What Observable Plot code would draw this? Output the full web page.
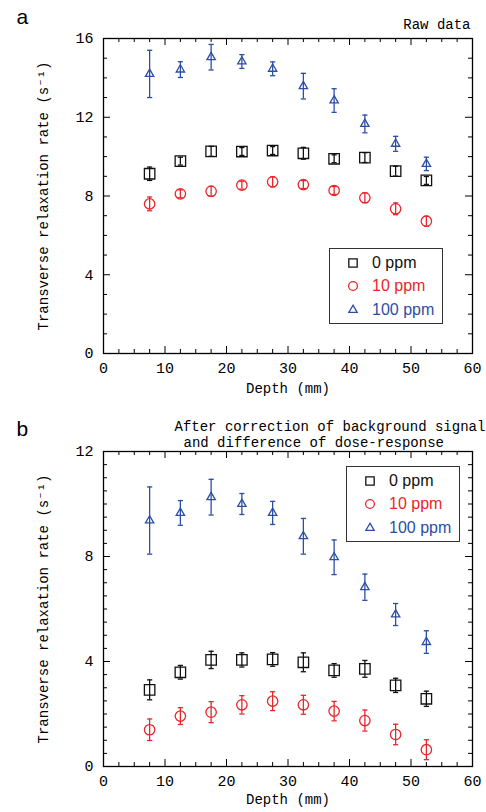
<!DOCTYPE html>
<html><head><meta charset="utf-8">
<script src="https://cdn.jsdelivr.net/npm/d3@7"></script>
<script src="https://cdn.jsdelivr.net/npm/@observablehq/plot@0.6"></script>
<style>
body{margin:0;background:#fff;}
#wrap{position:relative;width:486px;height:812px;overflow:hidden;background:#fff;}
#wrap svg{display:block;}
.legend{position:absolute;box-sizing:border-box;border:1.5px solid #333;background:#fff;font-family:"Liberation Sans",Arial,sans-serif;font-size:16px;}
.legend .row{position:absolute;height:20px;line-height:20px;white-space:nowrap;}
.legend .sym{position:absolute;}
</style></head><body><div id="wrap"></div>
<script>
// ---------- data ----------
const depth = [7.5, 12.5, 17.5, 22.5, 27.5, 32.5, 37.5, 42.5, 47.5, 52.5];

// Panel a: raw data
const rawPpm0     = [9.13, 9.77, 10.27, 10.26, 10.31, 10.17, 9.89, 9.95, 9.26, 8.79];
const rawPpm0Err  = [0.34, 0.20, 0.25, 0.20, 0.20, 0.30, 0.20, 0.25, 0.25, 0.20];
const rawPpm10    = [7.60, 8.11, 8.24, 8.55, 8.72, 8.58, 8.28, 7.91, 7.35, 6.72];
const rawPpm10Err = [0.35, 0.20, 0.25, 0.20, 0.25, 0.20, 0.20, 0.25, 0.30, 0.25];
const rawPpm100   = [14.20, 14.42, 15.05, 14.83, 14.46, 13.58, 12.85, 11.66, 10.65, 9.63];
const rawPpm100Err= [1.20, 0.40, 0.65, 0.35, 0.35, 0.65, 0.60, 0.45, 0.38, 0.34];

// Panel b: corrected data
const corPpm0     = [2.92, 3.59, 4.06, 4.06, 4.08, 3.97, 3.66, 3.72, 3.09, 2.58];
const corPpm0Err  = [0.38, 0.26, 0.33, 0.27, 0.26, 0.36, 0.26, 0.32, 0.27, 0.29];
const corPpm10    = [1.40, 1.92, 2.07, 2.35, 2.49, 2.35, 2.11, 1.75, 1.22, 0.64];
const corPpm10Err = [0.41, 0.32, 0.40, 0.35, 0.36, 0.36, 0.37, 0.40, 0.39, 0.38];
const corPpm100   = [9.37, 9.66, 10.26, 10.00, 9.66, 8.77, 7.97, 6.83, 5.79, 4.74];
const corPpm100Err= [1.28, 0.47, 0.68, 0.40, 0.44, 0.68, 0.66, 0.50, 0.42, 0.43];

const seriesNames = ["0 ppm", "10 ppm", "100 ppm"];

// ticks
const xMajorTicks = [0, 10, 20, 30, 40, 50, 60];
const xMinorTicks = [2.5, 5, 7.5, 12.5, 15, 17.5, 22.5, 25, 27.5, 32.5, 35, 37.5, 42.5, 45, 47.5, 52.5, 55, 57.5];
const yMajorTicksA = [0, 4, 8, 12, 16];
const yMinorTicksA = [1, 2, 3, 5, 6, 7, 9, 10, 11, 13, 14, 15];
const yMajorTicksB = [0, 4, 8, 12];
const yMinorTicksB = [0.5, 1, 1.5, 2, 2.5, 3, 3.5, 4.5, 5, 5.5, 6, 6.5, 7, 7.5, 8.5, 9, 9.5, 10, 10.5, 11, 11.5];

const xLabel = "Depth (mm)";
const yLabel = "Transverse relaxation rate (s\u207B\u00B9)";
const titleA = "Raw data";
const titleB1 = "After correction of background signal";
const titleB2 = "and difference of dose-response";

// ---------- styling ----------
const colors = ["#111111", "#e8262c", "#2b4ea6"];
const symbols = ["square", "circle", "triangle"];
const radii = [5.9, 5.2, 3.1];
const capSymbol = {draw(ctx, size) { const r = Math.sqrt(size / Math.PI); ctx.moveTo(-r, 0); ctx.lineTo(r, 0); }};

const W = 486, H = 406, ML = 103, MR = 14;
const plotW = W - ML - MR; // 369
const plotH = 315;
const mono = "Liberation Mono, DejaVu Sans Mono, monospace";

function panel({vals, errs, yDomain, yMajor, yMinor, marginTop, letter, letterDy, titles, xLabelDy}) {
  const marginBottom = H - marginTop - plotH;
  const marks = [];
  const tk = {stroke: "#000", strokeWidth: 1};
  marks.push(Plot.tickX(xMinorTicks, {...tk, insetTop: plotH - 4}));
  marks.push(Plot.tickX(xMinorTicks, {...tk, insetBottom: plotH - 4}));
  marks.push(Plot.tickX(xMajorTicks, {...tk, insetTop: plotH - 7}));
  marks.push(Plot.tickX(xMajorTicks, {...tk, insetBottom: plotH - 7}));
  marks.push(Plot.tickY(yMinor, {...tk, insetRight: plotW - 4}));
  marks.push(Plot.tickY(yMinor, {...tk, insetLeft: plotW - 4}));
  marks.push(Plot.tickY(yMajor, {...tk, insetRight: plotW - 7}));
  marks.push(Plot.tickY(yMajor, {...tk, insetLeft: plotW - 7}));
  marks.push(Plot.frame({stroke: "#000", strokeWidth: 1.3}));
  marks.push(Plot.axisX(xMajorTicks, {tickSize: 0, tickPadding: 9, label: null, fontSize: 15}));
  marks.push(Plot.axisY(yMajor, {tickSize: 0, tickPadding: 10, label: null, fontSize: 15}));
  vals.forEach((v, s) => {
    const rows = depth.map((d, i) => ({depth: d, value: v[i], lo: v[i] - errs[s][i], hi: v[i] + errs[s][i]}));
    marks.push(Plot.ruleX(rows, {x: "depth", y1: "lo", y2: "hi", stroke: colors[s], strokeWidth: 1.3}));
    marks.push(Plot.dot(rows, {x: "depth", y: "lo", symbol: capSymbol, r: 2.6, stroke: colors[s], fill: "none", strokeWidth: 1.3}));
    marks.push(Plot.dot(rows, {x: "depth", y: "hi", symbol: capSymbol, r: 2.6, stroke: colors[s], fill: "none", strokeWidth: 1.3}));
    marks.push(Plot.dot(rows, {x: "depth", y: "value", symbol: symbols[s], r: radii[s], stroke: colors[s], fill: "none", strokeWidth: 1.3}));
  });
  marks.push(Plot.text([xLabel], {frameAnchor: "bottom", dy: xLabelDy, textAnchor: "middle", fontFamily: mono, fontSize: 14}));
  marks.push(Plot.text([yLabel], {frameAnchor: "left", dx: -60, rotate: -90, textAnchor: "middle", fontFamily: mono, fontSize: 14}));
  marks.push(Plot.text([letter], {frameAnchor: "top-left", dx: 16 - ML, dy: letterDy, textAnchor: "start", lineAnchor: "bottom", fontFamily: "Liberation Sans, Arial, sans-serif", fontSize: 21}));
  titles.forEach(t => marks.push(Plot.text([t.text], {frameAnchor: t.anchor, dx: t.dx, dy: t.dy, textAnchor: t.textAnchor, lineAnchor: "bottom", fontFamily: mono, fontSize: 14})));
  return Plot.plot({
    width: W, height: H,
    marginLeft: ML, marginRight: MR, marginTop, marginBottom,
    x: {domain: [0, 60]},
    y: {domain: yDomain},
    style: {fontFamily: mono, fontSize: "14px", color: "#000", background: "#fff", overflow: "visible"},
    marks
  });
}

const wrap = document.getElementById("wrap");
wrap.appendChild(panel({
  vals: [rawPpm0, rawPpm10, rawPpm100],
  errs: [rawPpm0Err, rawPpm10Err, rawPpm100Err],
  yDomain: [0, 16], yMajor: yMajorTicksA, yMinor: yMinorTicksA,
  marginTop: 38, letter: "a", letterDy: -15, xLabelDy: 39,
  titles: [{text: titleA, anchor: "top-right", dx: -2, dy: -10, textAnchor: "end"}]
}));
wrap.appendChild(panel({
  vals: [corPpm0, corPpm10, corPpm100],
  errs: [corPpm0Err, corPpm10Err, corPpm100Err],
  yDomain: [0, 12], yMajor: yMajorTicksB, yMinor: yMinorTicksB,
  marginTop: 45, letter: "b", letterDy: -16, xLabelDy: 37,
  titles: [
    {text: titleB1, anchor: "top-left", dx: 71, dy: -21, textAnchor: "start"},
    {text: titleB2, anchor: "top-left", dx: 80, dy: -5, textAnchor: "start"}
  ]
}));

// ---------- legends ----------
function legend(left, top) {
  const box = document.createElement("div");
  box.className = "legend";
  Object.assign(box.style, {left: left + "px", top: top + "px", width: "114px", height: "76px"});
  const legendSyms = [d3.symbolSquare, d3.symbolCircle, d3.symbolTriangle];
  const legendSizes = [70, 60, 30];
  seriesNames.forEach((name, i) => {
    const cy = 15 + i * 23.5;
    const svg = d3.create("svg").attr("width", 14).attr("height", 14).attr("class", "sym")
      .style("left", (23 - 7) + "px").style("top", (cy - 7 - 1.5) + "px");
    svg.append("path").attr("transform", "translate(7,7)")
      .attr("d", d3.symbol(legendSyms[i], legendSizes[i])())
      .attr("fill", "none").attr("stroke", colors[i]).attr("stroke-width", 1.3);
    box.appendChild(svg.node());
    const row = document.createElement("div");
    row.className = "row";
    row.textContent = name;
    Object.assign(row.style, {left: "42px", top: (cy - 10 - 1.5) + "px", color: colors[i]});
    box.appendChild(row);
  });
  wrap.appendChild(box);
}
legend(329, 248);
legend(346, 466);
</script>
</body></html>
